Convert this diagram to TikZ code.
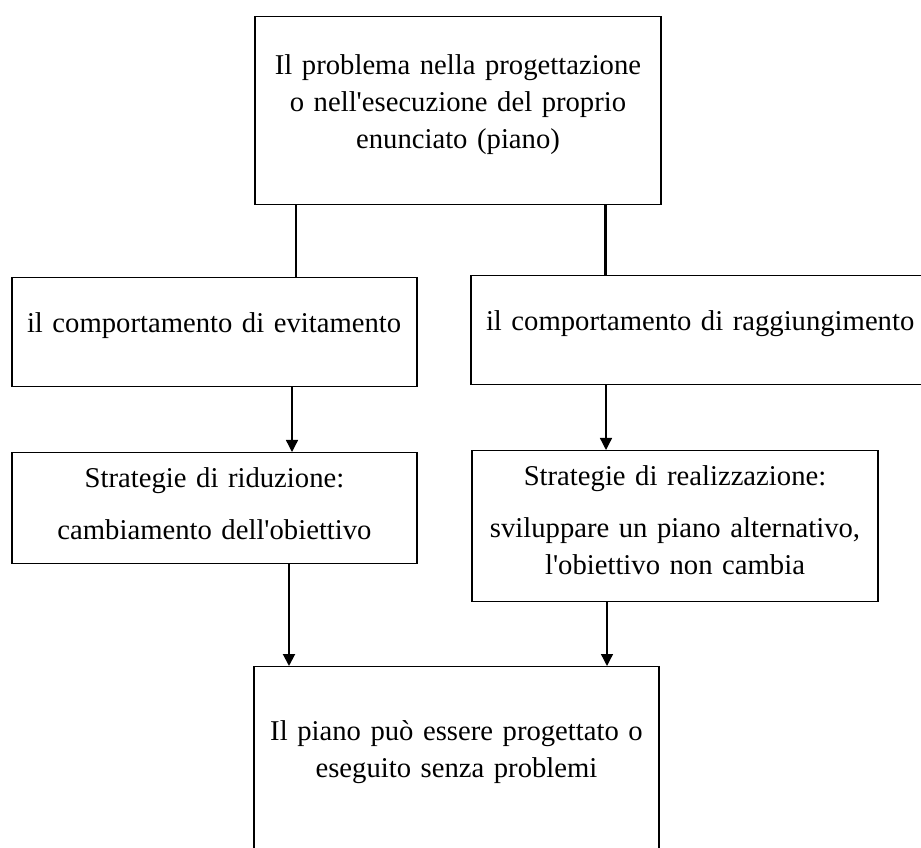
\documentclass[tikz,border=0pt]{standalone}
\usepackage{fontspec}
\newfontfamily\wordfont{Liberation Serif}
\usetikzlibrary{arrows.meta}

\begin{document}
\begin{tikzpicture}[x=0.75pt,y=-0.75pt,
  box/.style={draw, line width=0.8pt, anchor=north, inner ysep=0pt, inner xsep=8pt,
    minimum height=0pt, font=\wordfont\fontsize{21.5}{27.75}\selectfont},
  link/.style={line width=1.8pt},
  arrow/.style={line width=1pt, -{Triangle[length=9pt,width=9pt]}}]
\useasboundingbox (0,0) rectangle (921,848);
\clip (0,0) rectangle (921,848);

% Define the boxes, top to bottom
\node[box, align=center, text width=285pt, minimum width=304.5pt,
  text height=43.5pt, text depth=97.5pt] (problem) at (458,16)
  {Il problema nella progettazione\\ o nell'esecuzione del proprio\\ enunciato (piano)};
\node[box, align=left, inner xsep=11.25pt, text width=281.25pt, minimum width=303.75pt,
  text height=41.25pt, text depth=40.5pt] (avoid) at (214.5,277)
  {il comportamento di evitamento};
\node[box, align=left, inner xsep=11.25pt, text width=325.5pt, minimum width=348pt,
  text height=41.25pt, text depth=40.5pt] (reach) at (703,275)
  {il comportamento di raggiungimento};
\node[box, align=center, text width=281.25pt, minimum width=303.75pt,
  text height=26.25pt, text depth=57pt] (reduce) at (214.5,452)
  {Strategie di riduzione:\\[11.25pt] cambiamento dell'obiettivo};
\node[box, align=center, text width=285pt, minimum width=304.5pt,
  text height=26.25pt, text depth=87pt] (realize) at (675,450)
  {Strategie di realizzazione:\\[11.25pt] sviluppare un piano alternativo,\\ l'obiettivo non cambia};
\node[box, align=center, text width=285pt, minimum width=303.75pt,
  text height=55.5pt, text depth=97.5pt] (plan) at (456.5,666)
  {Il piano può essere progettato o\\ eseguito senza problemi};

% Columns of the connectors
\coordinate (c1) at (296,0);
\coordinate (c2) at (605.5,0);
\coordinate (c3) at (292,0);
\coordinate (c4) at (606,0);
\coordinate (c5) at (289,0);
\coordinate (c6) at (607,0);

% Connect the boxes
\draw[link] (problem.south -| c1) -- (avoid.north -| c1);
\draw[link] (problem.south -| c2) -- (reach.north -| c2);
\draw[arrow] (avoid.south -| c3) -- (reduce.north -| c3);
\draw[arrow] (reach.south -| c4) -- (realize.north -| c4);
\draw[arrow, line width=1.5pt] (reduce.south -| c5) -- (plan.north -| c5);
\draw[arrow] (realize.south -| c6) -- (plan.north -| c6);
\end{tikzpicture}
\end{document}
